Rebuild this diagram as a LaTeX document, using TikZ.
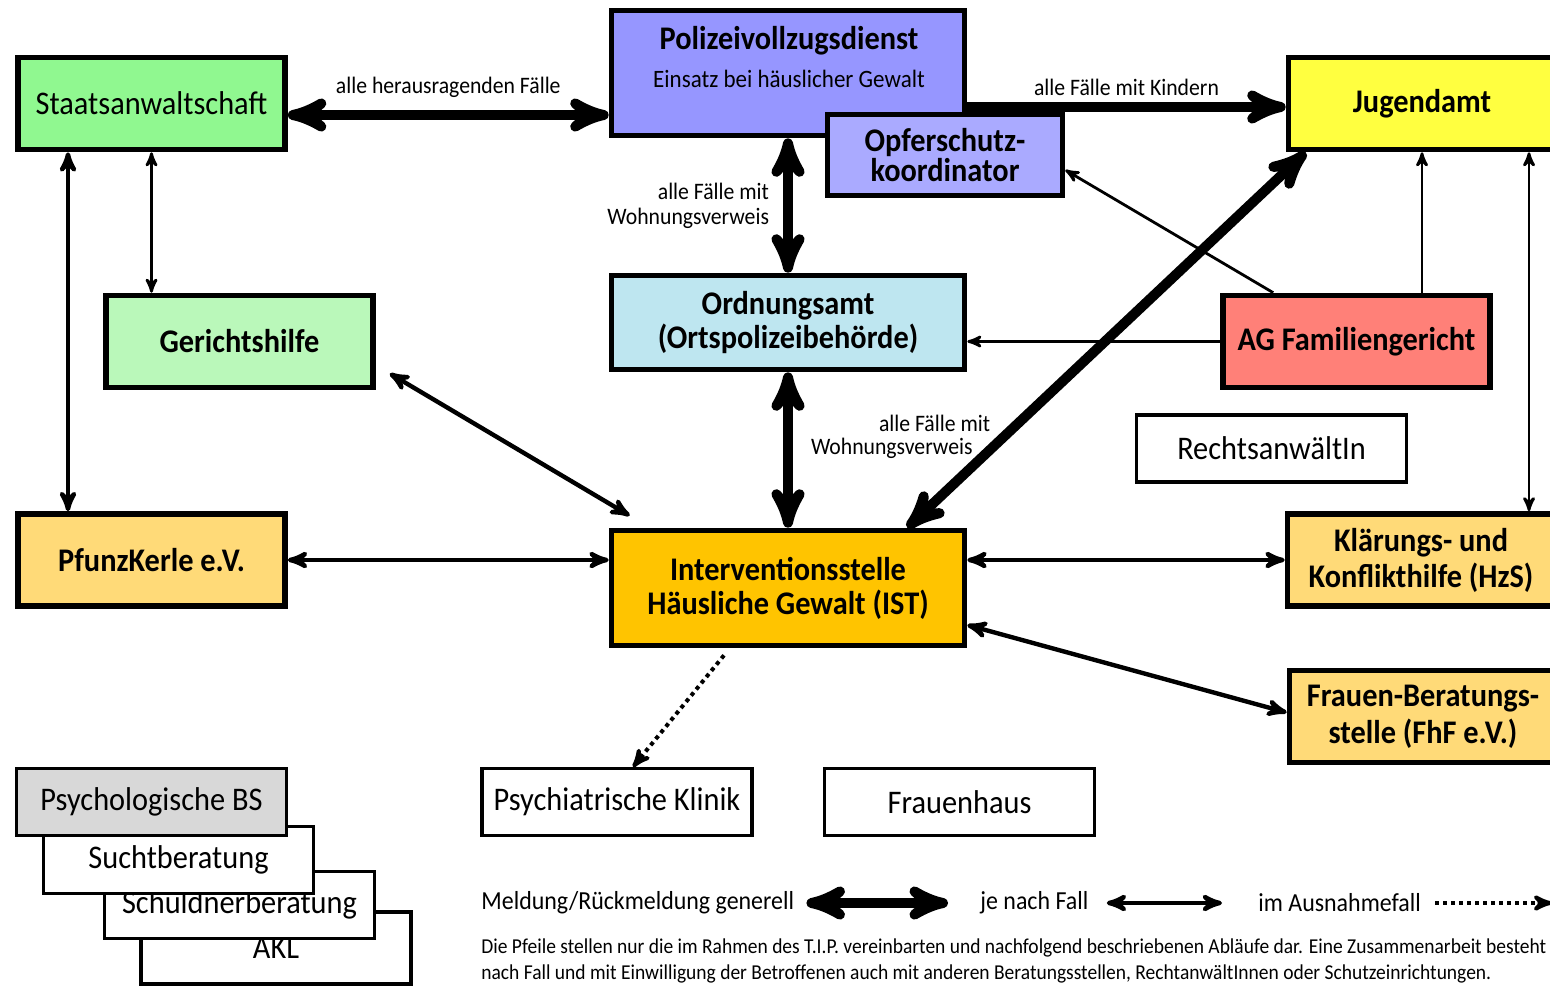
\documentclass[tikz,border=0pt]{standalone}
\usepackage{fontspec}
\setmainfont{Carlito}[FakeStretch=0.92]
\usepackage{tikz}
\usetikzlibrary{arrows,positioning}
\definecolor{staatsgruen}{RGB}{144,248,144}
\definecolor{polizeiblau}{RGB}{150,150,255}
\definecolor{opferblau}{RGB}{170,170,255}
\definecolor{jugendgelb}{RGB}{255,255,64}
\definecolor{gerichtgruen}{RGB}{186,248,186}
\definecolor{ordnungblau}{RGB}{190,230,240}
\definecolor{familienrot}{RGB}{255,128,120}
\definecolor{hellorange}{RGB}{255,218,120}
\definecolor{istorange}{RGB}{255,196,0}
\definecolor{psychgrau}{RGB}{216,216,216}
\tikzset{
>=stealth',
  amt/.style={
    rectangle,
    draw=black, line width=2.8pt,
    minimum width=133.5pt,
    minimum height=46pt,
    inner sep=2pt,
    align=center,
    font=\fontsize{16.5}{17}\selectfont},
  amtfett/.style={amt, font=\fontsize{16.5}{17}\selectfont\bfseries},
  breit/.style={minimum width=176.5pt},
  weiss/.style={amt, line width=1.6pt, fill=white, minimum width=135pt, minimum height=33.5pt},
  dick/.style={draw, line width=5pt},
  mittel/.style={draw, line width=2.2pt},
  duenn/.style={draw, line width=1.4pt},
  punktiert/.style={draw, line width=2pt, dash pattern=on 2pt off 2pt},
  pfeiltext/.style={font=\fontsize{11.8}{12.5}\selectfont, inner sep=1pt},
  legende/.style={font=\fontsize{13}{15}\selectfont, anchor=west, inner sep=0pt}
}
\begin{document}
\begin{tikzpicture}[x=0.5pt, y=-0.5pt]
    \useasboundingbox (0,0) rectangle (1550,986);
    \coordinate (linksrand) at (68,0);
    \coordinate (rechtsrand) at (1529,0);

    % obere Reihe
    \node (staats) [amt, fill=staatsgruen] at (151.5,103.5) {Staatsanwaltschaft};
    \node (polizei) [amt, breit, fill=polizeiblau, minimum height=62.5pt] at (788,73) {};
    \node (polizeititel) [align=center, font=\fontsize{16.5}{17}\selectfont] at (789,57)
        {\textbf{Polizeivollzugsdienst}\\[2pt]{\fontsize{12.5}{14}\selectfont Einsatz bei häuslicher Gewalt}};
    \node (jugend) [amtfett, fill=jugendgelb] at (1422,103.5) {Jugendamt};
    \draw[dick,->] ([yshift=-17pt]polizei.east) -- node[pfeiltext, above=2pt] {alle Fälle mit Kindern} ([yshift=-1.75pt]jugend.west);
    \node (opfer) [amtfett, fill=opferblau, minimum width=117.5pt, minimum height=40.5pt,
        font=\fontsize{16.5}{15}\selectfont\bfseries] at (945,155) {Opferschutz-\\koordinator};

    % mittlere Reihe
    \node (gericht) [amtfett, fill=gerichtgruen] at (239.5,341.5) {Gerichtshilfe};
    \node (ordnung) [amtfett, breit, fill=ordnungblau, minimum height=47pt] at (788,322.5) {Ordnungsamt\\(Ortspolizeibehörde)};
    \node (familie) [amtfett, fill=familienrot] at (1356.5,341.5) {AG Familiengericht};
    \node (recht) [weiss] at (1271.5,448.5) {RechtsanwältIn};

    % untere Reihe
    \node (pfunz) [amtfett, fill=hellorange] at (151.5,560) {PfunzKerle e.V.};
    \node (ist) [amtfett, breit, fill=istorange, minimum height=57.5pt] at (788,588) {Interventionsstelle\\Häusliche Gewalt (IST)};
    \node (klaerung) [amtfett, fill=hellorange, font=\fontsize{16.5}{18}\selectfont\bfseries] at (1421,560) {Klärungs- und\\Konflikthilfe (HzS)};
    \node (frauenb) [amtfett, fill=hellorange, font=\fontsize{16.5}{18.5}\selectfont\bfseries] at (1423,716.5) {Frauen-Beratungs-\\stelle (FhF e.V.)};

    \node (psychk) [weiss] at (617,802) {Psychiatrische Klinik};
    \node (frauenhaus) [weiss] at (959.5,802) {Frauenhaus};

    % Beratungsstellen gestapelt
    \node (akl) [weiss, minimum height=36pt] at (276,948) {AKL};
    \node (schuldner) [weiss] at (239.5,905) {Schuldnerberatung};
    \node (sucht) [weiss] at (178.5,860) {Suchtberatung};
    \node (psybs) [weiss, fill=psychgrau] at (151.5,802) {Psychologische BS};

    % Verbindungen
    \draw[dick,<->] ([yshift=-5.75pt]staats.east) -- node[pfeiltext, above=5pt] {alle herausragenden Fälle} ([yshift=-21pt]polizei.west);
    \draw[dick,<->] (polizei.south) -- node[pfeiltext, left=6pt, align=right] {alle Fälle mit\\Wohnungsverweis} (ordnung.north);
    \draw[dick,<->] (ordnung.south) -- node[pfeiltext, pos=0.33, right=42pt] {alle Fälle mit}
        node[pfeiltext, pos=0.49, right=8pt] {Wohnungsverweis} (ist.north);
    \draw[dick,<->] ([xshift=10pt]jugend.south west) -- ([xshift=-30pt]ist.north east);
    \draw[duenn,->] ([xshift=26.5pt]familie.north west) -- ([yshift=-7.5pt]opfer.east);
    \draw[duenn,->] (familie.north -| jugend.south) -- (jugend.south);
    \draw[duenn,->] (familie.west) -- (ordnung.east |- familie.west);
    \draw[duenn,<->] (rechtsrand |- jugend.south) -- (rechtsrand |- klaerung.north);
    \draw[duenn,<->] (staats.south) -- (staats.south |- gericht.north);
    \draw[mittel,<->] (linksrand |- staats.south) -- (linksrand |- pfunz.north);
    \draw[mittel,<->] ([xshift=7pt,yshift=-16pt]gericht.east) -- ([xshift=10.5pt,yshift=6pt]ist.north west);
    \draw[mittel,<->] (pfunz.east) -- (pfunz.east -| ist.west);
    \draw[mittel,<->] (ist.east |- klaerung.west) -- (klaerung.west);
    \draw[mittel,<->] ([yshift=-18.5pt]ist.east) -- ([yshift=2pt]frauenb.west);
    \draw[punktiert,->] ([xshift=-32pt,yshift=-3.5pt]ist.south) -- ([xshift=8pt]psychk.north);

    % Legende
    \node (leg1) [legende] at (481,903) {Meldung/Rückmeldung generell};
    \node (leg2) [legende] at (980,903) {je nach Fall};
    \node (leg3) [legende] at (1258,903) {im Ausnahmefall};
    \coordinate (legende-ende) at (1552,903);
    \draw[dick,<->,shorten <=6pt,shorten >=16pt] (leg1.east) -- (leg2.west);
    \draw[mittel,<->,shorten <=9pt,shorten >=18pt] (leg2.east) -- (leg3.west);
    \draw[punktiert,->,shorten <=7pt] (leg3.east) -- (legende-ende);
    \node (fussnote) [anchor=north west, align=left, inner sep=0pt, font=\fontsize{10.6}{13}\selectfont] at (481,938)
        {Die Pfeile stellen nur die im Rahmen des T.I.P. vereinbarten und nachfolgend beschriebenen Abläufe dar. Eine Zusammenarbeit besteht je\\
         nach Fall und mit Einwilligung der Betroffenen auch mit anderen Beratungsstellen, RechtanwältInnen oder Schutzeinrichtungen.};
\end{tikzpicture}
\end{document}
